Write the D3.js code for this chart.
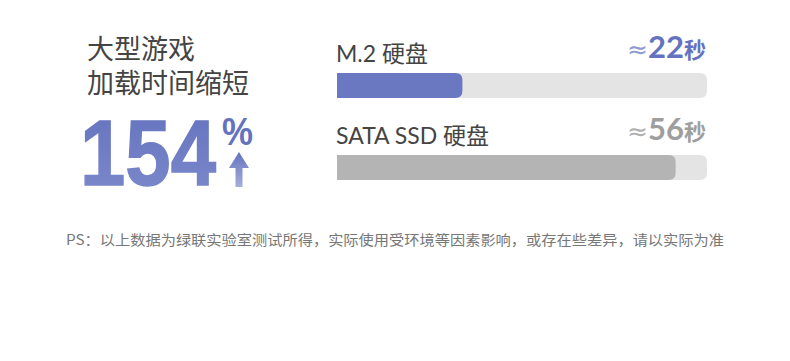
<!DOCTYPE html>
<html><head><meta charset="utf-8">
<script src="https://cdn.jsdelivr.net/npm/d3@7"></script>
<style>
html,body{margin:0;padding:0;background:#fff;}
svg{display:block;}
</style></head>
<body><div id="chart"></div>
<script>
const titleLines = ["大型游戏", "加载时间缩短"];
const headline = "154";
const categories = ["M.2 硬盘", "SATA SSD 硬盘"];
const values = [22, 56];
const unit = "秒";
const note = "PS：以上数据为绿联实验室测试所得，实际使用受环境等因素影响，或存在些差异，请以实际为准";

const W = 790, H = 361;
const svg = d3.select("#chart").append("svg").attr("width", W).attr("height", H);
const defs = svg.append("defs");
const g1 = defs.append("linearGradient").attr("id","numGrad").attr("x1",0).attr("y1",0).attr("x2",0).attr("y2",1);
g1.append("stop").attr("offset","0%").attr("stop-color","#6472bf");
g1.append("stop").attr("offset","100%").attr("stop-color","#7d8acb");
const g2 = defs.append("linearGradient").attr("id","arrGrad").attr("x1",0).attr("y1",0).attr("x2",0).attr("y2",1);
g2.append("stop").attr("offset","0%").attr("stop-color","#6472bf");
g2.append("stop").attr("offset","100%").attr("stop-color","#a6aedb");

const cjk = "'Noto Sans CJK SC', 'Noto Sans', sans-serif";
const latin = "Lato, 'Noto Sans CJK SC', sans-serif";

// Title
svg.selectAll("text.title").data(titleLines).join("text")
  .attr("class","title")
  .attr("x", 87).attr("y", (d,i) => 59 + i*34)
  .attr("font-family", cjk).attr("font-size", 27).attr("fill", "#444")
  .text(d => d);

// Headline number
svg.append("text").attr("x", 80).attr("y", 185)
  .attr("font-family", "'Liberation Sans', Arial, sans-serif").attr("font-weight", "bold")
  .attr("font-size", 93).attr("fill", "url(#numGrad)")
  .attr("stroke", "url(#numGrad)").attr("stroke-width", 1.5)
  .attr("textLength", 136).attr("lengthAdjust", "spacingAndGlyphs")
  .text(headline);
svg.append("text").attr("x", 222).attr("y", 145)
  .attr("font-family", "'Liberation Sans', Arial, sans-serif").attr("font-weight", "bold")
  .attr("font-size", 39).attr("fill", "#6472bf")
  .attr("textLength", 31).attr("lengthAdjust", "spacingAndGlyphs")
  .text("%");
// arrow
const ax = 239;
svg.append("path")
  .attr("d", `M${ax},152 L${ax+10},168 L${ax+3.5},168 L${ax+3.5},187 L${ax-3.5},187 L${ax-3.5},168 L${ax-10},168 Z`)
  .attr("fill", "url(#arrGrad)");

// Bars
const x = d3.scaleLinear().domain([2, 61]).range([337, 707]);
const rows = [73, 155];
const barH = 25;
const fills = ["#6a78c2", "#b4b4b4"];
const valColors = [["#8f99d2","#6472bf"], ["#b0b0b0","#9e9e9e"]];

function barPath(x0, x1, y, h, r) {
  return `M${x0},${y} L${x1-r},${y} Q${x1},${y} ${x1},${y+r} L${x1},${y+h-r} Q${x1},${y+h} ${x1-r},${y+h} L${x0},${y+h} Z`;
}

const rowG = svg.selectAll("g.row").data(categories).join("g").attr("class","row");
rowG.append("path")
  .attr("d", (d,i) => barPath(x.range()[0], x.range()[1], rows[i], barH, 7))
  .attr("fill", "#e4e4e4");
rowG.append("path")
  .attr("d", (d,i) => barPath(x.range()[0], x(values[i]), rows[i], barH, 7))
  .attr("fill", (d,i) => fills[i]);
rowG.append("text")
  .attr("x", 336).attr("y", (d,i) => rows[i] - 11)
  .attr("font-family", latin).attr("font-size", 23).attr("fill", "#444")
  .text(d => d);
const vt = rowG.append("text")
  .attr("x", 706).attr("y", (d,i) => rows[i] - 15)
  .attr("text-anchor", "end");
vt.append("tspan").attr("font-family", "'DejaVu Sans', sans-serif").attr("font-size", 25).attr("fill", (d,i) => valColors[i][0]).text("≈");
vt.append("tspan").attr("font-family", latin).attr("font-size", 31).attr("font-weight", "bold").attr("fill", (d,i) => valColors[i][1]).text((d,i) => values[i]);
vt.append("tspan").attr("font-family", cjk).attr("font-size", 22).attr("font-weight", "bold").attr("fill", (d,i) => valColors[i][1]).text(unit);

// Note
svg.append("text").attr("x", 66).attr("y", 245)
  .attr("font-family", cjk).attr("font-size", 14).attr("fill", "#777")
  .attr("textLength", 658).attr("lengthAdjust", "spacingAndGlyphs")
  .text(note);
</script></body></html>
